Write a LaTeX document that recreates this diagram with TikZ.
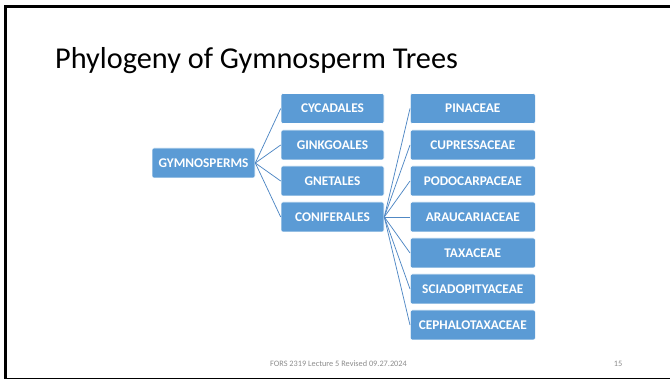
\documentclass[tikz,border=0pt]{standalone}
\usepackage{fontspec}
\setmainfont{Carlito}
\definecolor{boxblue}{HTML}{5B9BD5}
\definecolor{linkblue}{HTML}{5088C4}
\definecolor{footgray}{HTML}{8C8C8C}

\tikzset{
  taxon/.style={draw=white, line width=0.6pt, fill=boxblue, rounded corners=2pt,
    minimum height=30pt, text=white, font=\bfseries\fontsize{13.3}{15}\selectfont,
    inner sep=0pt, align=center},
  order/.style={taxon, minimum width=103pt},
  family/.style={taxon, minimum width=125pt},
  branch/.style={draw=linkblue, line width=0.75pt}
}

\begin{document}
\begin{tikzpicture}[x=1pt, y=-1pt]
  \useasboundingbox (0,0) rectangle (670,379);
  \draw[line width=3pt] (5.5,6.5) rectangle (680,380);

  \node[anchor=base west, inner sep=0pt, font=\fontsize{30.3}{33}\selectfont] (title) at (55,69) {Phylogeny of Gymnosperm Trees};

  \node[order] (gym) at (203.5,163) {GYMNOSPERMS};

  \node[order] (cyc) at (332.5,108.5) {CYCADALES};
  \node[order] (gin) at (332.5,145) {GINKGOALES};
  \node[order] (gne) at (332.5,181) {GNETALES};
  \node[order] (con) at (332.5,217) {CONIFERALES};

  \node[family] (pin) at (472.8,108.5) {PINACEAE};
  \node[family] (cup) at (472.8,145) {CUPRESSACEAE};
  \node[family] (pod) at (472.8,181) {PODOCARPACEAE};
  \node[family] (ara) at (472.8,217) {ARAUCARIACEAE};
  \node[family] (tax) at (472.8,253) {TAXACEAE};
  \node[family] (sci) at (472.8,289) {SCIADOPITYACEAE};
  \node[family] (cep) at (472.8,325) {CEPHALOTAXACEAE};

  \foreach \n in {cyc,gin,gne,con}
    \draw[branch] (gym.east) -- (\n.west);
  \foreach \n in {pin,cup,pod,ara,tax,sci,cep}
    \draw[branch] (con.east) -- (\n.west);

  \node[text=footgray, font=\fontsize{8.3}{9}\selectfont] (foot) at (338.5,364) {FORS 2319 Lecture 5 Revised 09.27.2024};
  \node[text=footgray, font=\fontsize{8.3}{9}\selectfont] (page) at (618,364) {15};
\end{tikzpicture}
\end{document}
